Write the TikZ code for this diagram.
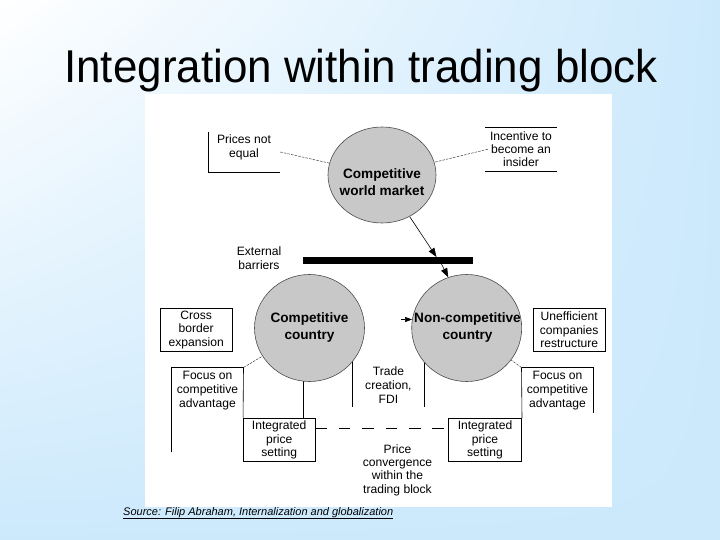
\documentclass[tikz,border=0pt]{standalone}
\usepackage{fontspec}
\setmainfont{Liberation Sans}
\usetikzlibrary{arrows.meta,shapes.geometric,shadings}
\definecolor{bgblue}{RGB}{204,233,252}
\definecolor{circgray}{RGB}{200,200,200}
\pgfdeclarelayer{bg}
\pgfdeclarelayer{conn}
\pgfsetlayers{bg,conn,main}
\begin{document}
\begin{tikzpicture}[x=1pt,y=-1pt,
  lbl/.style={font=\fontsize{12.1}{13.4}\selectfont, align=center, inner sep=0pt},
  bold/.style={font=\bfseries\fontsize{13.6}{17.2}\selectfont, align=center, inner sep=0pt},
  boxnode/.style={lbl, minimum width=#1, minimum height=43.4},
  circ/.style={ellipse, fill=circgray, draw=black!70, line width=0.6pt, inner sep=0pt},
  leader/.style={draw=black!75, line width=0.5pt, dash pattern=on 2.5pt off 1.2pt},
  thinline/.style={draw=black, line width=0.6pt},
  arr/.style={draw=black, line width=0.6pt, -{Triangle[length=9pt,width=6.5pt]}}
]
\useasboundingbox (0,0) rectangle (720,540);
\begin{pgfonlayer}{bg}
  \shade[upper left=white, upper right=bgblue, lower left=bgblue, lower right=bgblue]
    (0pt,0pt) rectangle (720pt,-540pt);
  \fill[white] (145,94) rectangle (612,507);
\end{pgfonlayer}

% title
\node[anchor=base, inner sep=0pt, font=\fontsize{46}{50}\selectfont] (title) at (361,83)
  {\scalebox{0.955}[1]{Integration within trading block}};

% circles
\node[circ, minimum width=108, minimum height=96] (world) at (382,175) {};
\node[bold] (worldtxt) at (382,182.2) {Competitive\\world market};
\node[circ, minimum width=110, minimum height=107] (comp) at (309.5,328) {};
\node[bold] (comptxt) at (309.5,327.5) {Competitive\\country};
\node[circ, minimum width=110, minimum height=107] (nonc) at (466.7,328) {};
\node[bold] (nonctxt) at (467.5,327.5) {Non-competitive\\country};

% bar
\node[fill=black, minimum width=170, minimum height=7, inner sep=0pt] (bar) at (388,260.5) {};
\node[lbl] (ext) at (259,258) {External\\barriers};

% top boxes
\node[minimum width=72, minimum height=40, inner sep=0pt] (prices) at (244,152) {};
\node[lbl, font=\fontsize{12.1}{14.5}\selectfont] (pricestxt) at (244,147.5) {Prices not\\equal};
\node[lbl, minimum width=71.7, minimum height=43.7, font=\fontsize{12.1}{13}\selectfont] (incent) at (521,149.2) {Incentive to\\become an\\insider};

% side boxes
\node[boxnode=72.3, draw, thinline] (cross) at (196.2,330) {Cross\\border\\expansion};
\node[boxnode=72.3, draw, thinline] (unef) at (569.2,330) {Unefficient\\companies\\restructure};
\node[lbl, minimum width=71.6, minimum height=46.6, font=\fontsize{12.1}{14}\selectfont] (focusL) at (207.5,391) {Focus on\\competitive\\advantage};
\node[lbl, minimum width=71.6, minimum height=46.6, font=\fontsize{12.1}{14}\selectfont] (focusR) at (557.5,391) {Focus on\\competitive\\advantage};
\node[boxnode=71.7, draw, thinline] (intL) at (279.2,440) {Integrated\\price\\setting};
\node[boxnode=73.4, draw, thinline] (intR) at (485,440) {Integrated\\price\\setting};
\node[lbl, minimum width=71.8, minimum height=43.7, font=\fontsize{12.1}{14}\selectfont] (trade) at (388.4,384.8) {Trade\\creation,\\FDI};
\node[lbl] (price) at (397.5,470) {Price\\convergence\\within the\\trading block};

% source
\node[anchor=base west, inner sep=0pt, font=\itshape\fontsize{11}{13}\selectfont] (source) at (123,515)
  {\underline{Source: Filip Abraham, Internalization and globalization}};

% connectors
\coordinate (barin) at (436.5,257);
\coordinate (barout) at (441.5,264);
\coordinate (sa1) at (401,319.5);
\coordinate (sa2) at (412,319.5);
\begin{pgfonlayer}{conn}
  \draw[thinline] (prices.north west) -- (prices.south west) -- (prices.south east);
  \draw[thinline] (incent.north west) -- (incent.north east);
  \draw[thinline] (incent.south west) -- (incent.south east);
  \draw[leader] (prices.east) -- (world);
  \draw[leader] ([xshift=3pt]incent.west) -- (world);
  \draw[arr] (world) -- (barin);
  \draw[arr] (barout) -- (nonc.110);
  \draw[thinline] ([yshift=-37.7pt]focusL.south west) -- (focusL.north west) -- (focusL.north east) -- (intL.north west);
  \draw[thinline] (intR.north east) -- (focusR.north west) -- (focusR.north east) -- ([yshift=1.6pt]focusR.south east);
  \draw[leader] (focusL.north east) -- (comp);
  \draw[leader] (focusR.north west) -- (nonc);
  \draw[thinline] ([xshift=24pt]intL.north) -- ([xshift=24pt]intL.north |- comp.center);
  \draw[thinline] (trade.south west) -- (trade.north west |- comp.center);
  \draw[thinline] (trade.south east) -- (trade.north east |- nonc.center);
  \draw[thinline, dash pattern=on 11.7pt off 11.7pt] ([yshift=11.7pt]intL.east) -- ([yshift=11.7pt]intR.west);
\end{pgfonlayer}
\draw[draw=black, line width=0.6pt, -{Triangle[length=7pt,width=5pt]}] (sa1) -- (sa2);
\end{tikzpicture}
\end{document}
